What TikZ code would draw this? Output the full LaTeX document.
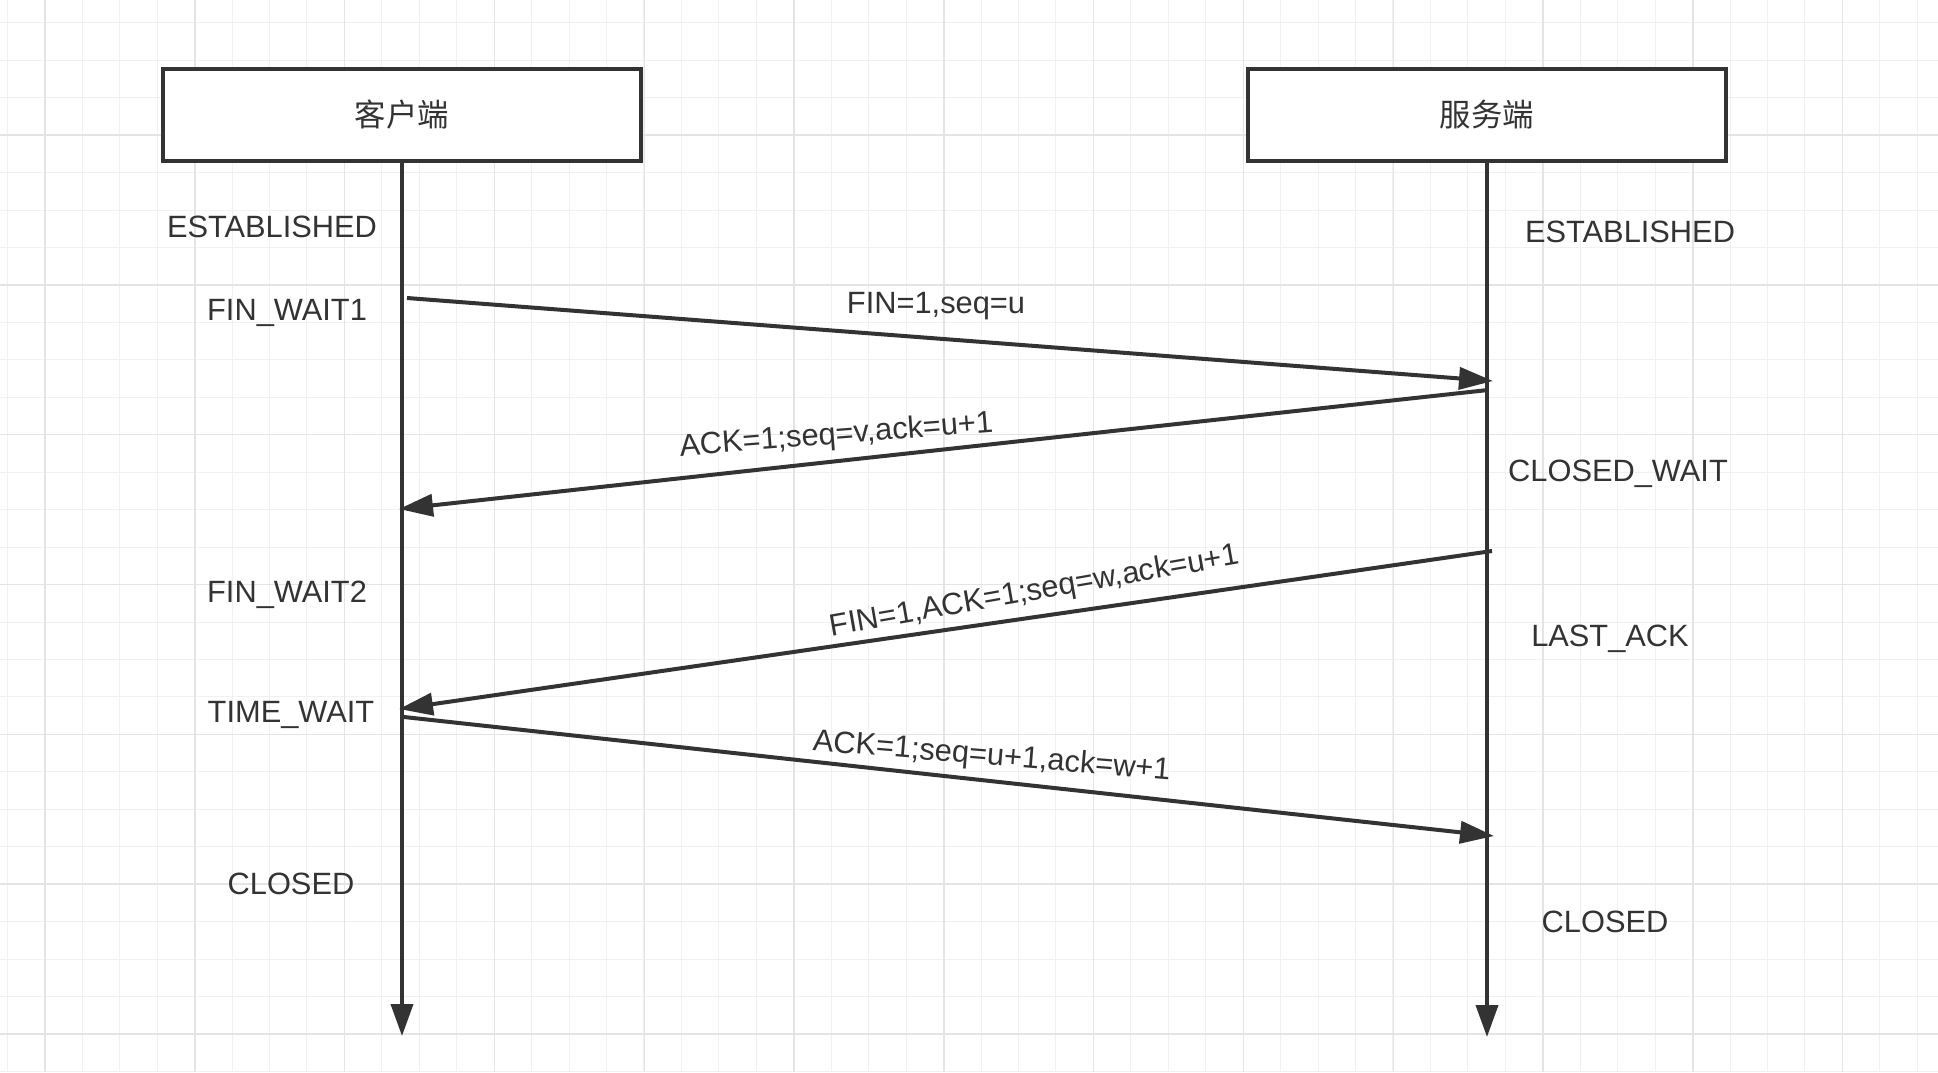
\documentclass[tikz,border=0pt]{standalone}
\usepackage{fontspec}
\setmainfont{Liberation Sans}
\newfontfamily\cjk{Noto Sans CJK SC}
\usepackage{xcolor}
\usepackage{tikz}
\usetikzlibrary{positioning,arrows.meta}
\definecolor{ink}{HTML}{333333}
\definecolor{gridminor}{HTML}{F1F1F1}
\definecolor{gridmajor}{HTML}{E4E4E4}

\begin{document}
\begin{tikzpicture}[x=0.5pt,y=-0.5pt,
    party/.style={draw=ink,line width=2.3pt,fill=white,minimum width=239pt,minimum height=46pt,
      text=ink,font=\cjk\fontsize{15.7pt}{18pt}\selectfont},
    state/.style={anchor=base,text=ink,font=\fontsize{15.4pt}{18pt}\selectfont},
    msg/.style={anchor=base,text=ink,font=\fontsize{15.4pt}{18pt}\selectfont},
    life/.style={ink,line width=1.9pt,-{Triangle[length=16pt,width=11pt]}},
    msgline/.style={ink,line width=2pt,-{Triangle[length=17pt,width=11pt]}}]
    \useasboundingbox (0,0) rectangle (1938,1072);
    \fill[white] (0,0) rectangle (1938,1072);
    \foreach \i in {0,...,51}
        \draw[gridminor,line width=0.5pt] ({7.3+37.45*\i},0) -- ({7.3+37.45*\i},1072);
    \foreach \j in {0,...,28}
        \draw[gridminor,line width=0.5pt] (0,{22.85+37.45*\j}) -- (1938,{22.85+37.45*\j});
    \foreach \i in {0,...,12}
        \draw[gridmajor,line width=0.7pt] ({45+149.8*\i},0) -- ({45+149.8*\i},1072);
    \foreach \j in {0,...,6}
        \draw[gridmajor,line width=0.7pt] (0,{135+149.8*\j}) -- (1938,{135+149.8*\j});

    \node[party] (client) at (402,115) {客户端};
    \node[party] (server) at (1487,115) {服务端};

    \coordinate (clientEnd) at (402,1036);
    \coordinate (serverEnd) at (1487,1037);
    \draw[life] (client) -- (clientEnd);
    \draw[life] (server) -- (serverEnd);

    \coordinate (finA) at (407,298);
    \coordinate (finB) at (1493,381);
    \coordinate (ackA) at (1488,390);
    \coordinate (ackB) at (399,509);
    \coordinate (lastFinA) at (1492,551);
    \coordinate (lastFinB) at (399,709);
    \coordinate (lastAckA) at (404,717);
    \coordinate (lastAckB) at (1494,836);
    \draw[msgline] (finA) -- (finB);
    \draw[msgline] (ackA) -- (ackB);
    \draw[msgline] (lastFinA) -- (lastFinB);
    \draw[msgline] (lastAckA) -- (lastAckB);

    \node[msg] (finLabel) at (936,313) {FIN=1,seq=u};
    \node[msg,rotate=4.5] (ackLabel) at (837,444) {ACK=1;seq=v,ack=u+1};
    \node[msg,rotate=10] (lastFinLabel) at (1036,600) {FIN=1,ACK=1;seq=w,ack=u+1};
    \node[msg,rotate=-4.7] (lastAckLabel) at (991,765) {ACK=1;seq=u+1,ack=w+1};

    \node[state] (clientEst) at (272,237) {ESTABLISHED};
    \node[state] (finWaitOne) at (287,320) {FIN\_WAIT1};
    \node[state] (finWaitTwo) at (287,602) {FIN\_WAIT2};
    \node[state] (timeWait) at (291,722) {TIME\_WAIT};
    \node[state] (clientClosed) at (291,894) {CLOSED};
    \node[state] (serverEst) at (1630,242) {ESTABLISHED};
    \node[state] (closedWait) at (1618,481) {CLOSED\_WAIT};
    \node[state] (lastAck) at (1610,646) {LAST\_ACK};
    \node[state] (serverClosed) at (1605,932) {CLOSED};
\end{tikzpicture}
\end{document}
